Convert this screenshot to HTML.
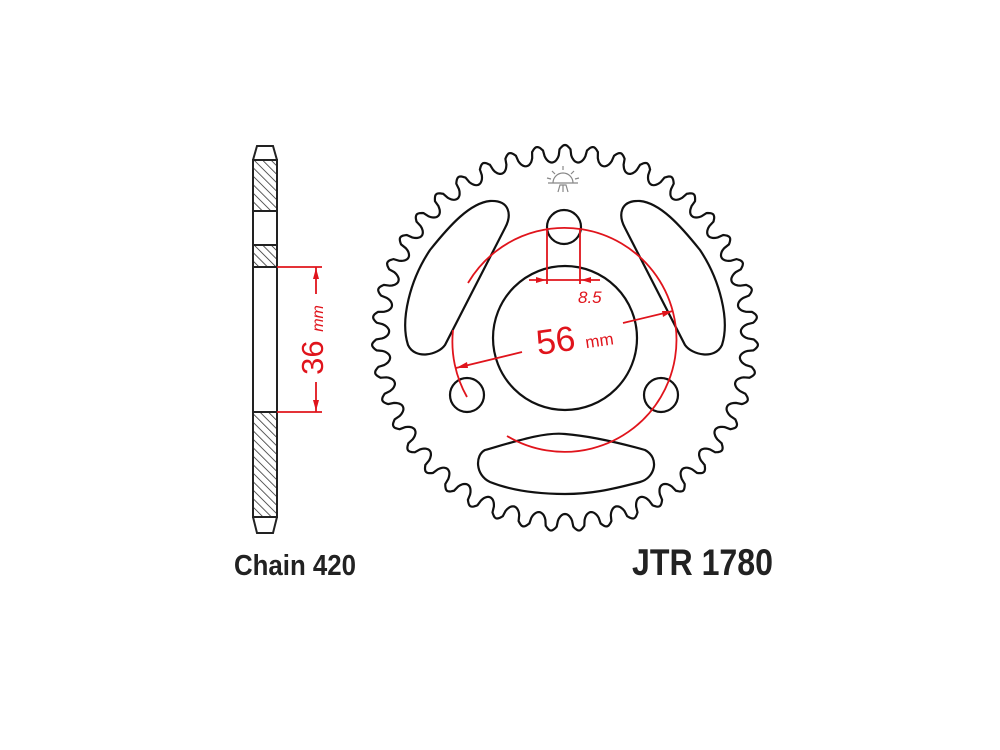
<!DOCTYPE html>
<html><head><meta charset="utf-8"><style>
html,body{margin:0;padding:0;background:#fff;}
svg{display:block;}
</style></head><body>
<svg id="s" width="1000" height="750" viewBox="0 0 1000 750" xmlns="http://www.w3.org/2000/svg">
<defs>
<pattern id="h" width="6" height="6" patternUnits="userSpaceOnUse" patternTransform="rotate(-45)">
<line x1="0" y1="0" x2="0" y2="6" stroke="#222" stroke-width="1.5"/>
</pattern>
</defs>
<!-- side view -->
<g stroke="#222" stroke-width="2" fill="none">
<path d="M257 146 L273 146 L277 160 L277 517 L273 533 L257 533 L253 517 L253 160 Z" fill="#fff"/>
<rect x="253" y="160" width="24" height="51" fill="url(#h)"/>
<rect x="253" y="245" width="24" height="22" fill="url(#h)"/>
<rect x="253" y="412" width="24" height="105" fill="url(#h)"/>
<line x1="253" y1="160" x2="277" y2="160"/>
<line x1="253" y1="517" x2="277" y2="517"/>
</g>
<g stroke="#e0141c" stroke-width="1.8" fill="#e0141c">
<line x1="277" y1="267" x2="322" y2="267"/>
<line x1="277" y1="412" x2="322" y2="412"/>
<line x1="316" y1="267" x2="316" y2="294"/>
<line x1="316" y1="382" x2="316" y2="412"/>
<path d="M316 268 L313 279 L319 279 Z" stroke="none"/>
<path d="M316 411 L313 400 L319 400 Z" stroke="none"/>
</g>
<text transform="translate(323,340) rotate(-90)" text-anchor="middle" font-family="Liberation Sans, sans-serif" font-size="31" fill="#e0141c">36 <tspan font-size="16" font-style="italic">mm</tspan></text>

<!-- sprocket -->
<path id="teeth" fill="none" stroke="#111" stroke-width="2.2"/>
<g fill="none" stroke="#111" stroke-width="2.2">
<circle cx="565" cy="338" r="72"/>
<circle cx="564" cy="227" r="17"/>
<circle cx="467" cy="395" r="17"/>
<circle cx="661" cy="395" r="17"/>
<path d="M490 201 C510 200 512 215 505 228 L445 345 C438 355 415 360 408 345 C400 320 410 280 430 250 C450 225 470 203 490 201 Z"/>
<path d="M640 201 C620 200 618 215 625 228 L685 345 C692 355 715 360 722 345 C730 320 720 280 700 250 C680 225 660 203 640 201 Z"/>
<path d="M485 450 C520 440 545 432 565 434 C590 436 620 443 645 450 C660 458 655 478 640 482 C610 490 590 494 565 494 C530 494 505 488 490 482 C475 475 475 455 485 450 Z"/>
</g>
<!-- logo -->
<g stroke="#888" stroke-width="1.2" fill="none">
<path d="M553 183 A10 10 0 0 1 573 183"/>
<line x1="548" y1="183" x2="578" y2="183"/>
<line x1="563" y1="170" x2="563" y2="166"/><line x1="555" y1="174" x2="552" y2="171"/><line x1="571" y1="174" x2="574" y2="171"/>
<line x1="551" y1="179" x2="547" y2="178"/><line x1="575" y1="179" x2="579" y2="178"/>
<path d="M558 192 L560 185 L566 185 L568 192 M563 185 L563 192"/>
</g>
<!-- red dims -->
<g stroke="#e0141c" stroke-width="1.8" fill="none">
<path d="M468 283 A112 112 0 1 1 507 436"/>
<path d="M453 330 A112 112 0 0 0 467 397"/>
<line x1="547" y1="228" x2="547" y2="284"/>
<line x1="580" y1="228" x2="580" y2="284"/>
<line x1="529" y1="280" x2="600" y2="280"/>
<line x1="456" y1="368" x2="522" y2="352"/>
<line x1="623" y1="323" x2="673" y2="311"/>
</g>
<g fill="#e0141c">
<path d="M546 280 L536 277 L536 283 Z"/>
<path d="M581 280 L591 277 L591 283 Z"/>
<path d="M456 368 L467 362 L468 368 Z"/>
<path d="M673 311 L662 311 L663 317 Z"/>
</g>
<text x="578" y="303" font-family="Liberation Sans, sans-serif" font-size="17" font-style="italic" fill="#e0141c">8.5</text>
<text transform="translate(538,355) rotate(-8)" font-family="Liberation Sans, sans-serif" font-size="35" fill="#e0141c">56 <tspan font-size="17">mm</tspan></text>

<text x="234" y="575" font-family="Liberation Sans, sans-serif" font-weight="bold" font-size="29" textLength="122" lengthAdjust="spacingAndGlyphs" fill="#222">Chain 420</text>
<text x="632" y="575" font-family="Liberation Sans, sans-serif" font-weight="bold" font-size="37" textLength="141" lengthAdjust="spacingAndGlyphs" fill="#222">JTR 1780</text>
</svg>
<script>
(function(){
var N=43,cx=565,cy=338,Rt=193,Rr=176,pts=[],S=30;
for(var i=0;i<N*S;i++){
 var ph=(i%S)/S; var a=i/(N*S)*2*Math.PI - Math.PI/2;
 var d=Math.abs(ph-0.5)*2; var f;
 if(d<0.6){f=0.75*(1-Math.sqrt(Math.max(0,1-Math.pow(d/0.6,2))));}
 else{f=0.75+0.25*Math.sin((d-0.6)/0.4*Math.PI/2);}
 var r=Rr+(Rt-Rr)*f;
 pts.push((cx+r*Math.cos(a)).toFixed(1)+' '+(cy+r*Math.sin(a)).toFixed(1));
}
document.getElementById('teeth').setAttribute('d','M'+pts.join(' L')+' Z');
})();
</script>
</body></html>
